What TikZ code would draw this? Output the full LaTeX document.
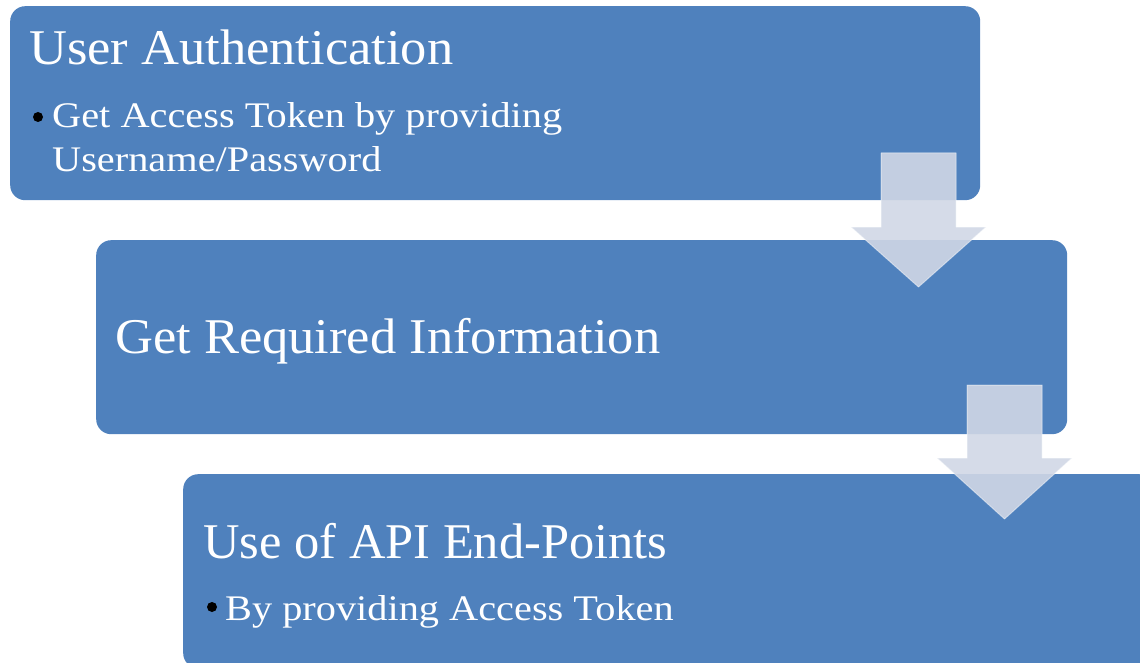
\documentclass[tikz,border=0pt]{standalone}
\usepackage{fontspec}
\setmainfont{Liberation Serif}
\newfontfamily\titlefamily[FakeStretch=1.05]{Liberation Serif}
\newfontfamily\titlenarrow[FakeStretch=1.01]{Liberation Serif}
\newfontfamily\bodyfamily[FakeStretch=1.12]{Liberation Serif}
\definecolor{boxblue}{HTML}{4F81BD}
\definecolor{arrowfill}{RGB}{208,215,229}
\begin{document}
\begin{tikzpicture}[x=1pt,y=-1pt,
  stepbox/.style={fill=boxblue, rounded corners=15pt, draw=none, inner sep=0pt, anchor=north west},
  title/.style={text=white, font=\titlefamily\fontsize{50}{60}\selectfont, anchor=base west, inner sep=0pt},
  item/.style={text=white, font=\bodyfamily\fontsize{36}{44}\selectfont, anchor=base west, inner sep=0pt},
  bulletdot/.style={circle, fill=black, inner sep=0pt, minimum size=10pt},
  flow/.style={fill=arrowfill, fill opacity=0.9, draw=white, draw opacity=0.45, line width=1pt, line join=round}]
\useasboundingbox (0,0) rectangle (1140,663);
\clip (0,0) rectangle (1140,663);
% boxes
\node[stepbox, minimum width=970pt, minimum height=194pt] (b1) at (10,6) {};
\node[stepbox, minimum width=971pt, minimum height=194pt] (b2) at (96,240) {};
\node[stepbox, minimum width=971pt, minimum height=194pt] (b3) at (183,474) {};
% flow arrows
\draw[flow] (881,153) -- (956,153) -- (956,227) -- (986,227) -- (918.5,287) -- (851,227) -- (881,227) -- cycle;
\draw[flow] (967,385) -- (1042,385) -- (1042,458) -- (1072,458) -- (1004.5,519) -- (937,458) -- (967,458) -- cycle;
% texts
\node[title] (t1) at (29,65) {User Authentication};
\node[bulletdot] (c1) at (38,117) {};
\node[item] (i1a) at (52,128) {Get Access Token by providing};
\node[item] (i1b) at (52,172) {Username/Password};
\node[title] (t2) at (115,353) {Get Required Information};
\node[title, font=\titlenarrow\fontsize{50}{60}\selectfont] (t3) at (203,558) {Use of API End-Points};
\node[bulletdot] (c3) at (212,607) {};
\node[item] (i3) at (225,620) {By providing Access Token};
\end{tikzpicture}
\end{document}
